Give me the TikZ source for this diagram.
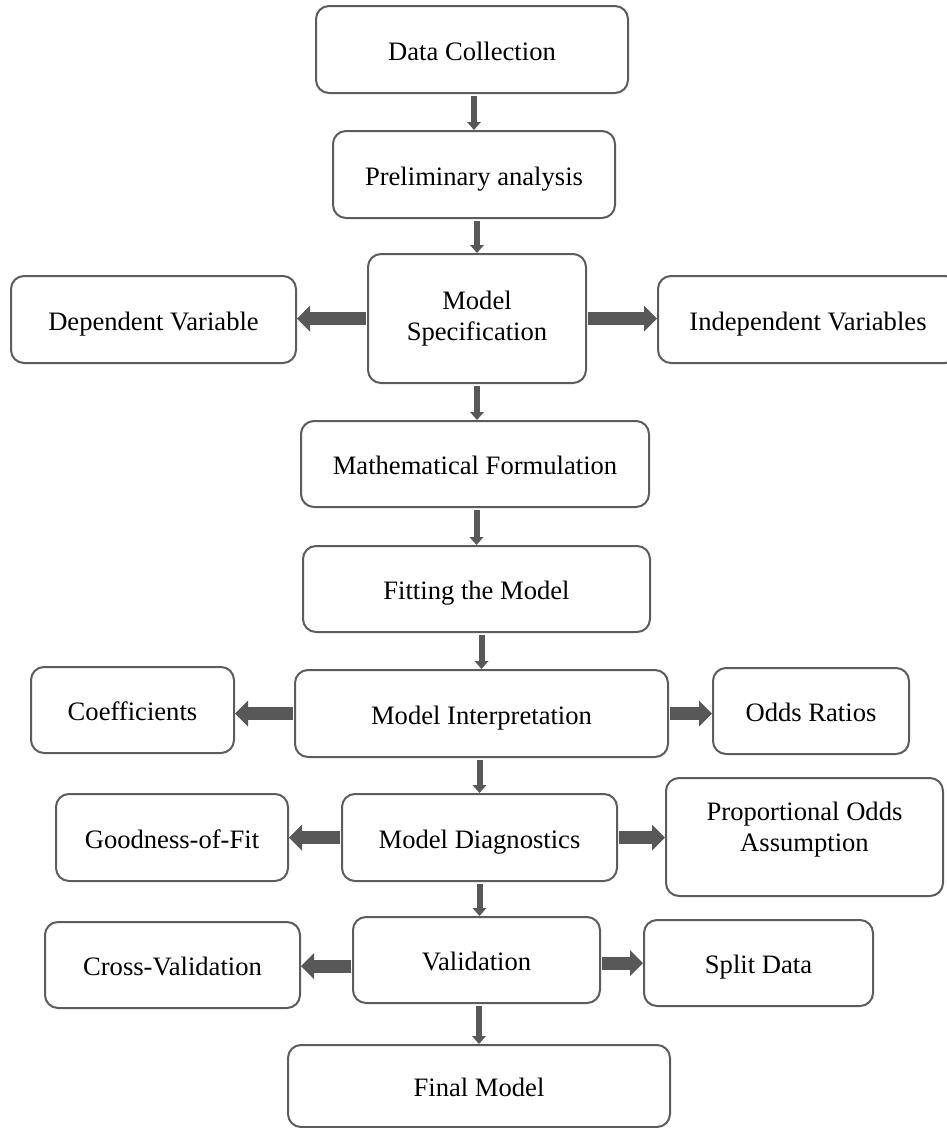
\documentclass[tikz,border=0pt]{standalone}
\usepackage{fontspec}
\setmainfont{Liberation Serif}
\usetikzlibrary{arrows.meta}
\definecolor{boxgray}{RGB}{92,92,92}
\definecolor{arrgray}{RGB}{88,88,88}
\begin{document}
\begin{tikzpicture}[x=1pt,y=-1pt,
  box/.style={draw=boxgray, line width=2pt, rounded corners=13pt, inner sep=0pt,
    align=center, font=\fontsize{26.6pt}{31pt}\selectfont, text=black},
  oneline/.style={text height=25pt, text depth=4pt},
  vconn/.style={draw=arrgray, line width=6pt,
    -{Triangle[width=14pt,length=8pt,line width=0pt]}, shorten <=1.5pt},
  hconn/.style={draw=arrgray, line width=13pt,
    -{Triangle[width=26pt,length=13pt,line width=0pt]}, shorten <=1pt}
]
\useasboundingbox (0,0) rectangle (947,1128);
% main column
\node[box, oneline, minimum width=312pt, minimum height=87pt] (dc) at (472,49.5) {Data Collection};
\node[box, oneline, minimum width=282pt, minimum height=87pt] (pa) at (474,174.5) {Preliminary analysis};
\node[box, minimum width=218pt, minimum height=129pt] (ms) at (477,318.5) {Model\\Specification};
\node[box, oneline, minimum width=348pt, minimum height=86pt] (mf) at (475,464) {Mathematical Formulation};
\node[box, oneline, minimum width=347pt, minimum height=86pt] (fm) at (476.5,589) {Fitting the Model};
\node[box, oneline, minimum width=373pt, minimum height=87pt] (mi) at (481.5,713.5) {Model Interpretation};
\node[box, oneline, minimum width=275pt, minimum height=87pt] (md) at (479.5,837.5) {Model Diagnostics};
\node[box, oneline, minimum width=247pt, minimum height=86pt] (va) at (476.5,960) {Validation};
\node[box, oneline, minimum width=382pt, minimum height=82pt] (fin) at (479,1086) {Final Model};
% side boxes
\node[box, oneline, minimum width=285pt, minimum height=87pt] (dv) at (153.5,319.5) {Dependent Variable};
\node[box, oneline, minimum width=300pt, minimum height=87pt] (iv) at (808,319.5) {Independent Variables};
\node[box, oneline, minimum width=203pt, minimum height=86pt] (co) at (132.5,710) {Coefficients};
\node[box, oneline, minimum width=196pt, minimum height=86pt] (or) at (811,711) {Odds Ratios};
\node[box, oneline, minimum width=232pt, minimum height=87pt] (gf) at (172,837.5) {Goodness-of-Fit};
\node[box, minimum width=277pt, minimum height=118pt] (po) at (804.5,837) {Proportional Odds\\Assumption\\[-10pt]\mbox{}};
\node[box, oneline, minimum width=255pt, minimum height=86pt] (cv) at (172.5,965) {Cross-Validation};
\node[box, oneline, minimum width=229pt, minimum height=86pt] (sd) at (758.5,963) {Split Data};
% vertical connectors
\draw[vconn] (dc.south -| pa.north) -- (pa.north);
\draw[vconn] (pa.south -| ms.north) -- (ms.north);
\draw[vconn] (ms.south) -- (ms.south |- mf.north);
\draw[vconn] (mf.south -| fm.north) -- (fm.north);
\draw[vconn] (fm.south -| mi.north) -- (mi.north);
\draw[vconn] (mi.south -| md.north) -- (md.north);
\draw[vconn] (md.south) -- (md.south |- va.north);
\draw[vconn] (va.south -| fin.north) -- (fin.north);
% horizontal connectors
\draw[hconn] (ms.west) -- (ms.west -| dv.east);
\draw[hconn] (ms.east) -- (ms.east -| iv.west);
\draw[hconn] (mi.west) -- (mi.west -| co.east);
\draw[hconn] (mi.east) -- (mi.east -| or.west);
\draw[hconn] (md.west) -- (md.west -| gf.east);
\draw[hconn] (md.east) -- (md.east -| po.west);
\draw[hconn] ([yshift=-6pt]va.west) -- ([yshift=-6pt]va.west -| cv.east);
\draw[hconn] ([yshift=-3pt]va.east) -- ([yshift=-3pt]va.east -| sd.west);
\end{tikzpicture}
\end{document}
